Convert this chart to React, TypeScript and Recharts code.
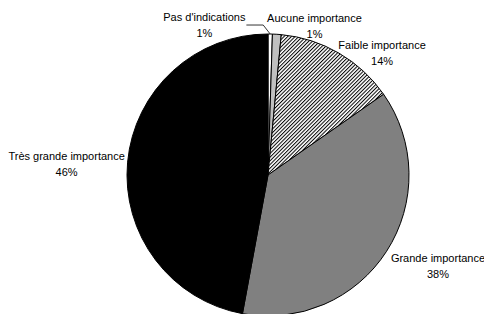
import React from "react";
import { PieChart, Pie, Cell } from "recharts";

const categories = [
  "Pas d'indications",
  "Aucune importance",
  "Faible importance",
  "Grande importance",
  "Très grande importance",
];
const shares = [0.5, 1.0, 13.8, 37.6, 47.1];
const percentLabels = ["1%", "1%", "14%", "38%", "46%"];

const FILLS = ["#ffffff", "#c0c0c0", "url(#hatch)", "#808080", "#000000"];
// label offsets from the radial anchor point (Excel "best fit" placement)
const LABEL_NUDGE = [
  { dx: -66, dy: 1 },
  { dx: 37, dy: 1 },
  { dx: 38, dy: 8 },
  { dx: 43, dy: 9 },
  { dx: -51, dy: 2 },
];

const data = categories.map((name, i) => ({
  name,
  value: shares[i],
  pct: percentLabels[i],
}));

const RAD = Math.PI / 180;
const FONT = "'Liberation Sans', Arial, sans-serif";

function renderLabel(props: any) {
  const { cx, cy, midAngle, outerRadius } = props;
  const name = props.name ?? props.payload?.name;
  const index = categories.indexOf(name);
  const cos = Math.cos(-midAngle * RAD);
  const sin = Math.sin(-midAngle * RAD);
  const r = outerRadius + 10;
  const x = cx + r * cos + LABEL_NUDGE[index].dx;
  const y = cy + r * sin + LABEL_NUDGE[index].dy;
  const d = data[index];
  let leader = null;
  if (index === 0) {
    const ex = cx + outerRadius * cos;
    const ey = cy + outerRadius * sin;
    const startX = x + 42;
    leader = (
      <polyline
        points={`${startX},${y} ${ex - 7},${y} ${ex},${ey}`}
        fill="none"
        stroke="#000"
        strokeWidth={0.8}
      />
    );
  }
  return (
    <g key={`lbl-${index}`}>
      {leader}
      <text
        x={x}
        y={y - 6.5}
        textAnchor="middle"
        dominantBaseline="middle"
        fontFamily={FONT}
        fontSize={11}
        fill="#000"
      >
        {d.name}
      </text>
      <text
        x={x}
        y={y + 9.5}
        textAnchor="middle"
        dominantBaseline="middle"
        fontFamily={FONT}
        fontSize={11}
        fill="#000"
      >
        {d.pct}
      </text>
    </g>
  );
}

export default function App() {
  return (
    <div
      style={{
        position: "absolute",
        left: 0,
        top: 0,
        width: 484,
        height: 314,
        background: "#fff",
        overflow: "hidden",
      }}
    >
      <svg width={0} height={0} style={{ position: "absolute" }}>
        <defs>
          <pattern
            id="hatch"
            patternUnits="userSpaceOnUse"
            width={2.6}
            height={2.6}
            patternTransform="rotate(45)"
          >
            <rect width={2.6} height={2.6} fill="#fff" />
            <line x1={0.5} y1={0} x2={0.5} y2={2.6} stroke="#000" strokeWidth={1} />
          </pattern>
        </defs>
      </svg>
      <PieChart
        width={484}
        height={314}
        margin={{ top: 0, right: 0, bottom: 0, left: 0 }}
      >
        <Pie
          data={data}
          dataKey="value"
          nameKey="name"
          cx={268}
          cy={175}
          outerRadius={141}
          startAngle={90}
          endAngle={-270}
          stroke="#000"
          strokeWidth={1}
          label={renderLabel}
          labelLine={false}
          isAnimationActive={false}
        >
          {data.map((d, i) => (
            <Cell key={d.name} fill={FILLS[i]} />
          ))}
        </Pie>
      </PieChart>
    </div>
  );
}
